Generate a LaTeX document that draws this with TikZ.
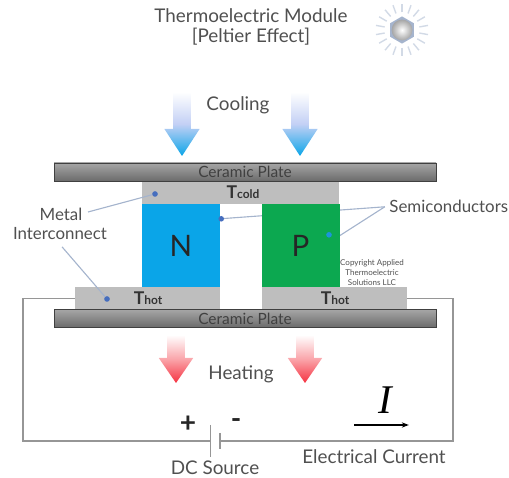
\documentclass[tikz,border=0pt]{standalone}
\usepackage{fontspec}
\setmainfont{Lato}
\newfontfamily\curfont{Liberation Serif}
\usepackage{xcolor}
\definecolor{tegblue}{RGB}{10,165,232}
\definecolor{teggreen}{RGB}{12,168,80}
\definecolor{teggray}{RGB}{190,190,190}
\definecolor{tegtext}{RGB}{80,80,80}
\definecolor{tegwire}{RGB}{150,150,150}
\definecolor{tegdot}{RGB}{70,110,190}
\definecolor{tegleader}{RGB}{165,180,205}
\definecolor{tegred}{RGB}{245,50,65}
\definecolor{tegpale}{RGB}{195,208,245}
\definecolor{tegpink}{RGB}{250,165,170}
\usetikzlibrary{arrows.meta, positioning, calc}
\tikzset{
  labeltext/.style={font=\fontsize{13.4}{16}\selectfont, tegtext, inner sep=0pt},
  sidetext/.style={font=\fontsize{12}{14}\selectfont, tegtext, inner sep=0pt},
  ceramic/.style={rectangle, minimum width=9.55cm, minimum height=0.45cm, inner sep=0pt,
    top color=black!35, bottom color=black!58, draw=black!50,
    font=\fontsize{11}{13}\selectfont, black!75},
  metalbox/.style={rectangle, fill=teggray, inner sep=0pt},
  legbox/.style={rectangle, minimum width=1.95cm, minimum height=2.08cm, inner sep=0pt,
    font=\fontsize{21}{24}\selectfont, black!85},
  tempmain/.style={font=\fontsize{12.5}{14}\selectfont\bfseries, black!80},
  wire/.style={tegwire, line width=0.8pt},
  leader/.style={tegleader, line width=0.8pt},
  leaddot/.style={circle, fill=tegdot, minimum size=4pt, inner sep=0pt},
  signtext/.style={font=\fontsize{20}{24}\selectfont\bfseries, black!85, inner sep=0pt},
}
\newcommand{\tsub}[1]{{\fontsize{8.5}{10}\selectfont #1}}
\begin{document}
\begin{tikzpicture}
  \useasboundingbox (0,0) rectangle (12.725,11.95);

  % --- Title and icon ---
  \node[labeltext] (title) at (6.275,11.55) {Thermoelectric Module};
  \node[labeltext] (subtitle) at (6.275,11.025) {[Peltier Effect]};

  \def\cx{10.05}
  \def\cy{11.2}
  \foreach \ang in {0,20,...,340}
    \draw[tegleader!50, line width=1pt] (\cx,\cy) ++(\ang+10:0.44) -- ++(\ang+10:0.22);
  \fill[tegleader] (\cx,\cy) ++(30:0.34) -- ++(150:0.34) -- ++(210:0.34) -- ++(270:0.34) -- ++(330:0.34) -- ++(30:0.34) -- cycle;
  \shade[inner color=white, outer color=black!35] (\cx,\cy) circle (0.26);

  % --- Cooling arrows ---
  \foreach \ax in {4.55,7.5}
    \shade[top color=white, bottom color=tegblue, middle color=tegpale]
      (\ax-0.22,9.65) -- (\ax+0.22,9.65) -- (\ax+0.22,8.725) -- (\ax+0.44,8.725)
      -- (\ax,8.05) -- (\ax-0.44,8.725) -- (\ax-0.22,8.725) -- cycle;
  \node[labeltext] (cooling) at (5.95,9.325) {Cooling};

  % leaders go under the blocks
  \coordinate (semileft) at (5.5,6.48);
  \coordinate (semiright) at (8.48,6.05);
  \node[sidetext, anchor=center] (semis) at (11.22,6.8) {Semiconductors};
  \coordinate (semisend) at (9.62,6.78);
  \draw[leader] (semisend) -- (semileft);
  \draw[leader] (semisend) -- (semiright);

  % --- Module ---
  \node[ceramic] (platetop) at (6.125,7.65) {Ceramic Plate};
  \node[metalbox, minimum width=4.925cm, minimum height=0.55cm] (tcold) at (6.0125,7.125) {};
  \node[tempmain] (tcoldtext) at (6.075,7.14) {T\tsub{cold}};
  \node[legbox, fill=tegblue] (nleg) at (4.525,5.81) {N};
  \node[legbox, fill=teggreen] (pleg) at (7.5125,5.81) {P};
  \node[metalbox, minimum width=3.625cm, minimum height=0.575cm] (thotl) at (3.6875,4.4875) {};
  \node[metalbox, minimum width=3.625cm, minimum height=0.575cm] (thotr) at (8.3625,4.4875) {};
  \node[tempmain] (thotltext) at (3.7,4.5) {T\tsub{hot}};
  \node[tempmain] (thotrtext) at (8.375,4.5) {T\tsub{hot}};
  \node[ceramic] (platebot) at (6.125,3.9875) {Ceramic Plate};

  % --- Leaders and dots ---
  \node[sidetext] (metal) at (1.525,6.6) {Metal};
  \node[sidetext] (interconnect) at (1.5,6.1) {Interconnect};
  \node[leaddot] (dotcold) at (3.875,7.1) {};
  \node[leaddot] (dothot) at (2.675,4.475) {};
  \node[leaddot] (dotn) at (5.53,6.48) {};
  \node[leaddot, fill=tegblue!70!tegdot] (dotp) at (8.225,6.08) {};
  \coordinate (metalend) at (2.2,6.65);
  \coordinate (interend) at (1.55,5.78);
  \draw[leader] (metalend) -- (dotcold);
  \draw[leader] (interend) -- (dothot);

  \node[font=\fontsize{5.7}{7}\selectfont, tegtext, align=center, inner sep=0pt] (copyr) at (9.3,5.14)
    {Copyright Applied\\Thermoelectric\\Solutions LLC};

  % --- Heating arrows ---
  \foreach \ax in {4.4,7.625}
    \shade[top color=white, bottom color=tegred, middle color=tegpink]
      (\ax-0.22,3.575) -- (\ax+0.22,3.575) -- (\ax+0.22,3.0) -- (\ax+0.43,3.0)
      -- (\ax,2.375) -- (\ax-0.43,3.0) -- (\ax-0.22,3.0) -- cycle;
  \node[labeltext] (heating) at (6.025,2.6) {Heating};

  % --- Circuit ---
  \coordinate (batplus) at (5.27,0.925);
  \coordinate (batminus) at (5.5,0.925);
  \coordinate (wireleft) at (0.575,0.925);
  \coordinate (wireright) at (11.325,0.925);
  \draw[wire] (thotl.west) -| (wireleft) -- (batplus);
  \draw[wire] (thotr.east) -| (wireright) -- (batminus);
  \draw[wire] ($(batplus)+(0,0.4)$) -- ($(batplus)+(0,-0.4)$);
  \draw[wire] ($(batminus)+(0,0.2)$) -- ($(batminus)+(0,-0.2)$);
  \node[signtext] (plus) at (4.7,1.35) {+};
  \node[signtext] (minus) at (5.9,1.35) {-};
  \node[labeltext] (dcsource) at (5.375,0.25) {DC Source};
  \node[font=\fontsize{29}{32}\selectfont\curfont\itshape, inner sep=0pt] (current) at (9.625,1.95) {I};
  \coordinate (curstart) at (8.85,1.325);
  \coordinate (curend) at (10.22,1.325);
  \draw[-{Stealth[length=5pt]}, line width=1pt, black] (curstart) -- (curend);
  \node[labeltext] (elcurrent) at (9.35,0.525) {Electrical Current};
\end{tikzpicture}
\end{document}
